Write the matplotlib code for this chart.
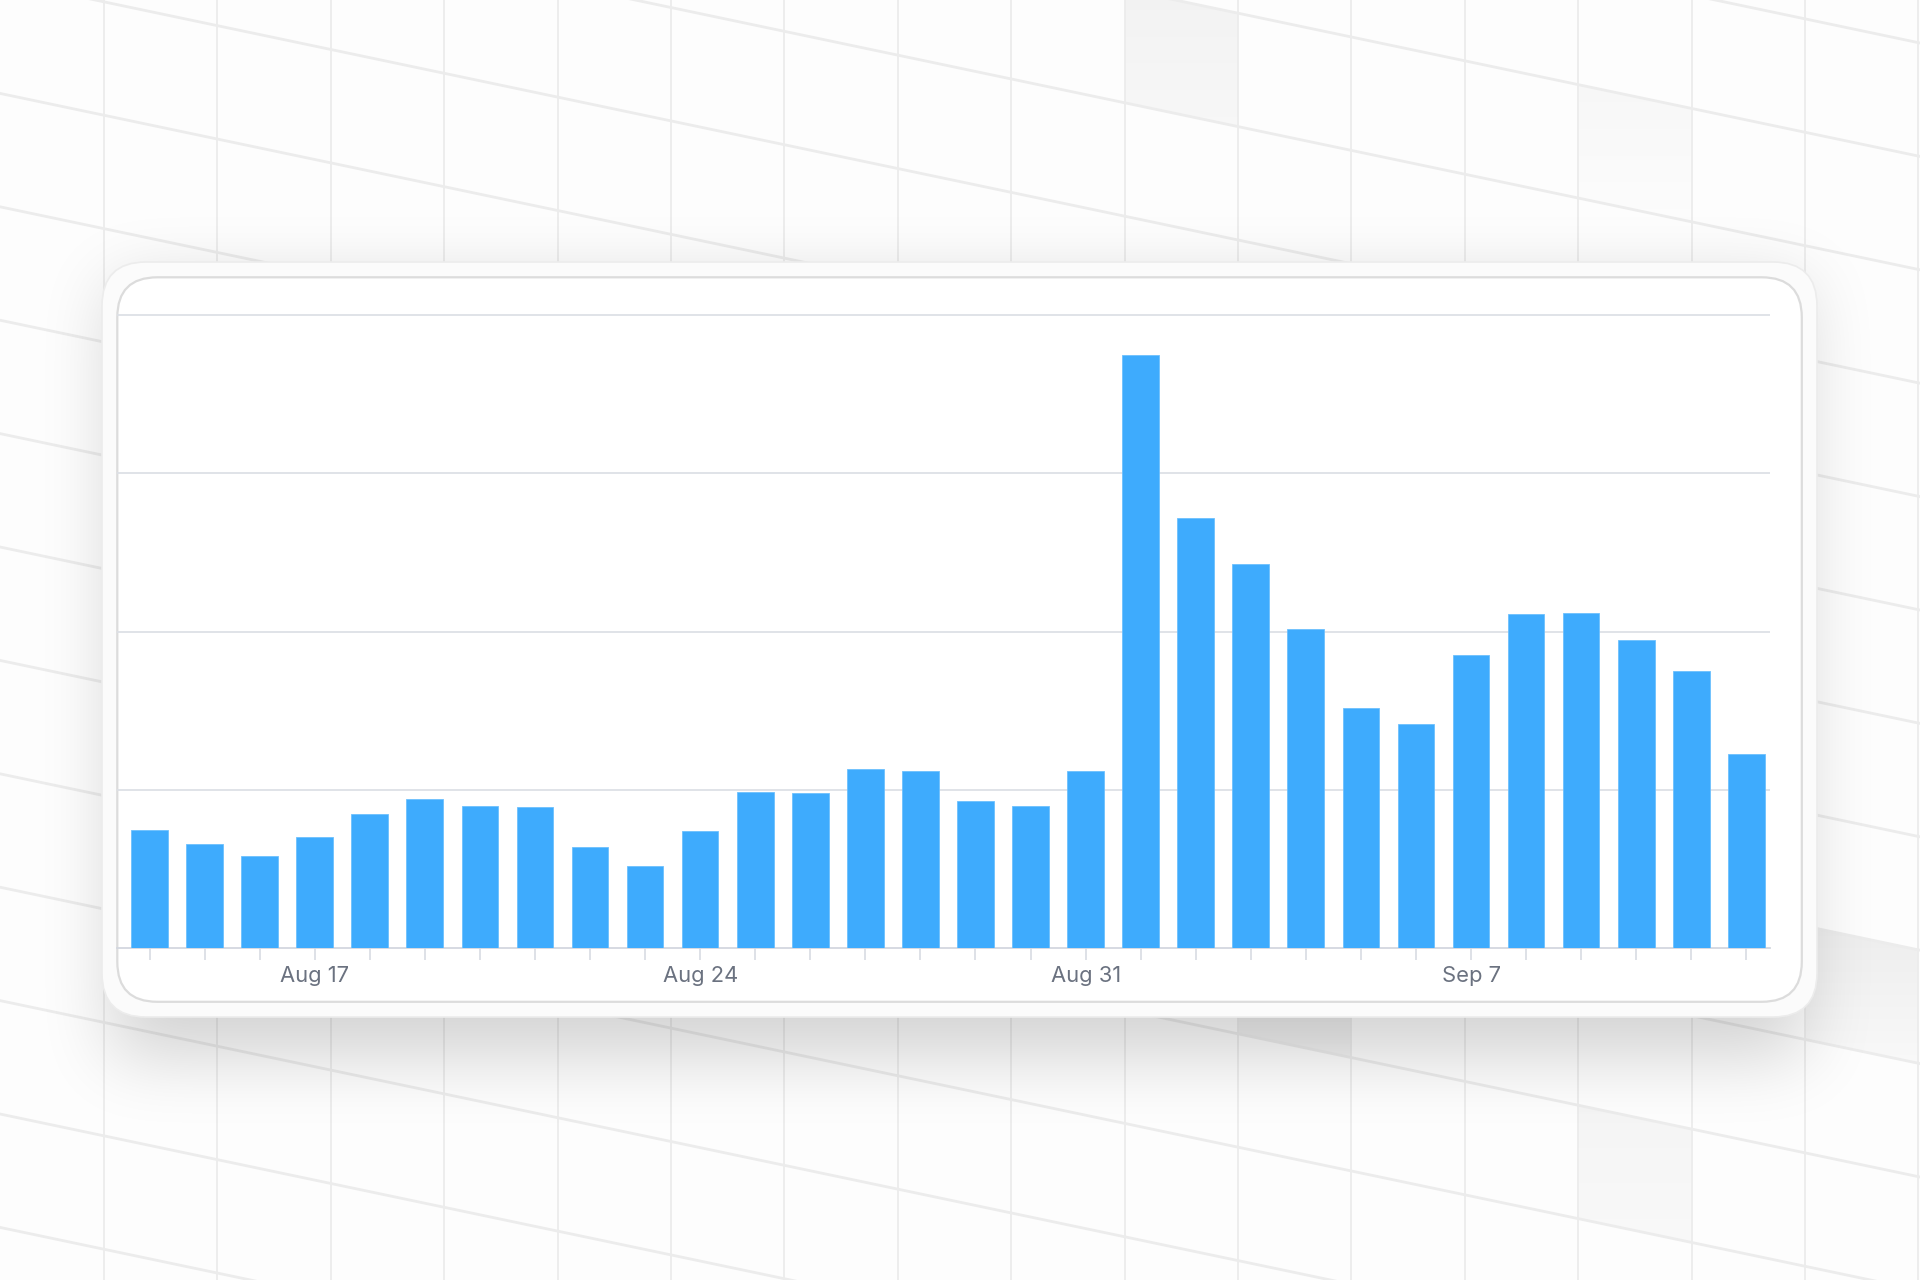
import numpy as np
import pandas as pd
import matplotlib.pyplot as plt
from matplotlib.patches import FancyBboxPatch, Polygon

# daily values, Aug 14 .. Sep 12
days = pd.date_range('2024-08-14', '2024-09-12', freq='D')
values = [75, 66, 58, 70, 85, 94, 90, 89, 64, 52,
          74, 99, 98, 113, 112, 93, 90, 112, 375, 272,
          243, 202, 152, 142, 185, 211, 212, 195, 175, 123]
label_days = ['Aug 17', 'Aug 24', 'Aug 31', 'Sep 7']
grid_values = [100, 200, 300, 400]

W, H = 1920, 1280
fig = plt.figure(figsize=(W / 100, H / 100), dpi=100)
fig.patch.set_facecolor('#fdfdfd')

# ---- decorative background (pixel coords) ----
bg = fig.add_axes([0, 0, 1, 1])
bg.set_xlim(0, W)
bg.set_ylim(H, 0)
bg.axis('off')

step = 113.4
slope = 0.21
x0 = 104

def cell(ix, iy):
    xa = x0 + ix * step
    xb = xa + step
    ca = -20 + iy * step
    cb = ca + step
    return [(xa, ca + slope * xa), (xb, ca + slope * xb), (xb, cb + slope * xb), (xa, cb + slope * xa)]

def shade_cell(ix, iy, c_top, c_bot):
    poly = Polygon(cell(ix, iy), closed=True, facecolor='none', edgecolor='none')
    bg.add_patch(poly)
    grad = np.linspace(0, 1, 64).reshape(-1, 1)
    col0 = np.array(c_top)
    col1 = np.array(c_bot)
    img = col0 + (col1 - col0) * grad
    img = np.repeat(img[:, None, :], 2, axis=1)
    pts = np.array(cell(ix, iy))
    im = bg.imshow(img, extent=(pts[:, 0].min(), pts[:, 0].max(), pts[:, 1].max(), pts[:, 1].min()),
                   aspect='auto', zorder=0.5, interpolation='bilinear')
    im.set_clip_path(poly)

shade_cell(9, -2, (0.95, 0.95, 0.95), (0.97, 0.97, 0.97))
shade_cell(13, -2, (0.97, 0.97, 0.97), (0.99, 0.99, 0.99))
shade_cell(15, 5, (0.93, 0.93, 0.93), (0.975, 0.975, 0.975))
shade_cell(13, 7, (0.96, 0.96, 0.96), (0.975, 0.975, 0.975))
shade_cell(10, 6, (0.90, 0.90, 0.90), (0.95, 0.95, 0.95))

for k in range(-1, 18):
    bg.plot([x0 + k * step] * 2, [0, H], color='#ececec', lw=1.3, zorder=1)
for k in range(-20, 14):
    c = -20 + k * step
    bg.plot([0, W], [c, c + slope * W], color='#ececec', lw=2.0, zorder=1)

# card shadow: blurred mask
sc = 4
mh, mw = H // sc, W // sc
mask = np.zeros((mh, mw))
mask[(262 + 22) // sc:(1017 + 40) // sc, (102 + 10) // sc:(1817 - 10) // sc] = 1.0

def blur(a, r):
    k = np.ones(2 * r + 1) / (2 * r + 1)
    for _ in range(3):
        a = np.apply_along_axis(lambda v: np.convolve(v, k, mode='same'), 0, a)
        a = np.apply_along_axis(lambda v: np.convolve(v, k, mode='same'), 1, a)
    return a

shadow = blur(mask, 8)
rgba = np.zeros((mh, mw, 4))
rgba[..., 3] = shadow * 0.17
bg.imshow(rgba, extent=(0, W, H, 0), aspect='auto', zorder=2, interpolation='bilinear')

# outer frame and inner card
outer = FancyBboxPatch((102, 262), 1715, 755, boxstyle='round,pad=0,rounding_size=44',
                       facecolor='#fbfbfb', edgecolor='#ececec', lw=1.2, zorder=3)
bg.add_patch(outer)
inner = FancyBboxPatch((117.3, 277.3), 1684.5, 724.5, boxstyle='round,pad=0,rounding_size=40',
                       facecolor='white', edgecolor='#dcdcdc', lw=1.6, zorder=4)
bg.add_patch(inner)

# ---- chart ----
ax = fig.add_axes([117.3 / W, (H - 948.3) / H, (1770 - 117.3) / W, (948.3 - 311.9) / H])
ax.set_facecolor('none')
x = np.arange(len(values))
ax.bar(x, values, width=0.666, color='#3eabfd', edgecolor='#6cc0fe', linewidth=0.6, zorder=3)

ax.set_xlim(-0.585, 29.43)
ax.set_ylim(0, 402)
ax.set_yticks(grid_values)
ax.yaxis.grid(True, color='#dde0e6', lw=1.3, zorder=0)
ax.tick_params(axis='y', left=False, labelleft=False)

tick_labels = [d.strftime('%b ') + str(d.day) for d in days]
tick_labels = [t if t in label_days else '' for t in tick_labels]
ax.set_xticks(x)
ax.set_xticklabels(tick_labels, fontfamily='Inter', fontsize=15.8, color='#6b7280')
ax.tick_params(axis='x', length=8.3, width=1.1, color='#d5d9e0', pad=4.5)

for s in ['top', 'right', 'left']:
    ax.spines[s].set_visible(False)
ax.spines['bottom'].set_color('#d3d7df')
ax.spines['bottom'].set_linewidth(1.3)
ax.set_axisbelow(True)

fig.savefig('out.png', dpi=100, facecolor=fig.get_facecolor())
